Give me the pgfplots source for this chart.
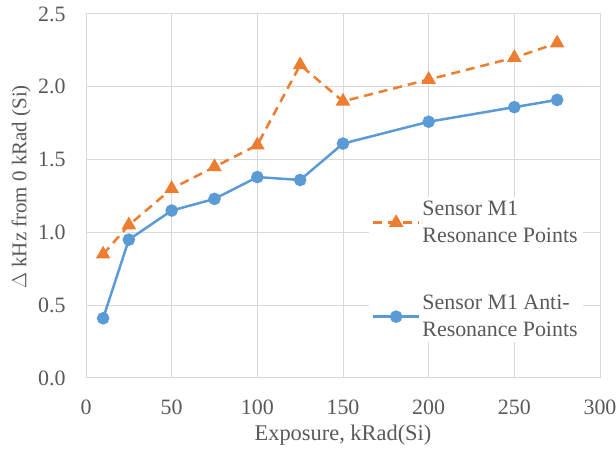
\documentclass[border=0pt]{standalone}
\usepackage{pgfplots}
\pgfplotsset{compat=1.18}
\usepackage{fontspec}
\setmainfont{Liberation Serif}
\definecolor{orng}{HTML}{ED7D31}
\definecolor{blu}{HTML}{5B9BD5}
\definecolor{txt}{HTML}{595959}
\definecolor{grd}{HTML}{D9D9D9}
\begin{document}
\begin{tikzpicture}[x=1bp,y=1bp]
\begin{axis}[
  at={(86bp,74bp)}, anchor=south west,
  width=514bp, height=364bp, scale only axis,
  xmin=0, xmax=300, ymin=0, ymax=2.5,
  xtick={0,50,...,300}, ytick={0,0.5,...,2.5},
  /pgf/number format/assume math mode=true,
  yticklabel style={/pgf/number format/fixed,/pgf/number format/fixed zerofill,/pgf/number format/precision=1, xshift=-13bp},
  xticklabel style={yshift=-12bp},
  ticklabel style={font=\fontsize{22}{26}\selectfont, text=txt},
  major tick length=0pt,
  xticklabel shift=6bp, yticklabel shift=4bp,
  grid=major, grid style={grd, line width=1bp},
  axis line style={grd, line width=1bp},
  xlabel={Exposure, kRad(Si)}, ylabel={$\Delta$ kHz from 0 kRad (Si)},
  xlabel style={font=\fontsize{22.5}{26}\selectfont, text=txt, at={(axis description cs:0.5,-0.157)}, anchor=center},
  ylabel style={font=\fontsize{21}{25}\selectfont, text=txt, at={(axis description cs:-0.126,0.525)}, anchor=center},
  legend style={at={(0.55,0.497)}, anchor=north west, draw=none, fill=white,
    font=\fontsize{22}{27}\selectfont, text=txt, row sep=47bp,
    nodes={align=left, inner sep=2bp}},
  legend cell align=left,
  legend image code/.code={\draw[mark repeat=2,mark phase=2] plot coordinates {(0bp,0bp)(23bp,0bp)(46bp,0bp)};},
]
\addplot[orng, line width=2.5bp, dash pattern=on 9bp off 6bp, mark=triangle*, mark size=6bp, mark options={solid, fill=orng}]
  coordinates {(10,0.85)(25,1.05)(50,1.30)(75,1.45)(100,1.60)(125,2.15)(150,1.90)(200,2.05)(250,2.20)(275,2.30)};
\addlegendentry{Sensor M1\\Resonance Points}
\addplot[blu, line width=2.5bp, mark=*, mark size=5bp, mark options={fill=blu}]
  coordinates {(10,0.41)(25,0.95)(50,1.15)(75,1.23)(100,1.38)(125,1.36)(150,1.61)(200,1.76)(250,1.86)(275,1.91)};
\addlegendentry{Sensor M1 Anti-\\Resonance Points}
\end{axis}
\pgfresetboundingbox
\path (0,0) rectangle (616,452);
\end{tikzpicture}
\end{document}
